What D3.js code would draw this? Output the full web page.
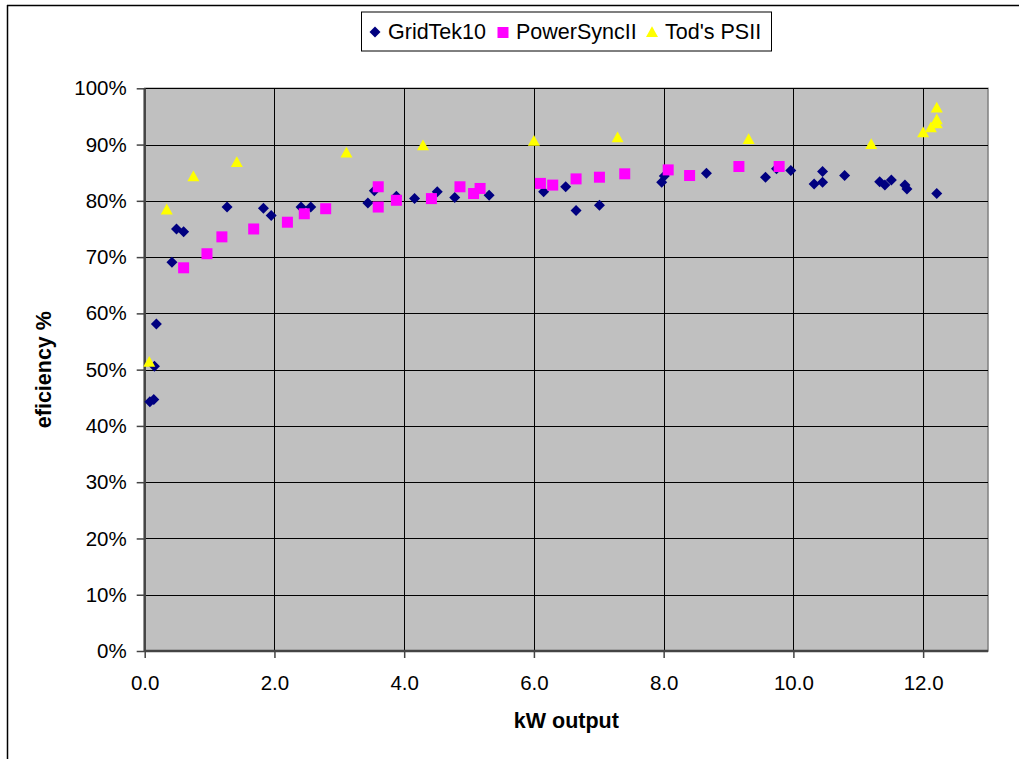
<!DOCTYPE html>
<html><head><meta charset="utf-8">
<script src="https://cdn.jsdelivr.net/npm/d3@7"></script>
<style>body{margin:0;background:#fff}svg{display:block;font-family:"Liberation Sans",Arial,sans-serif}</style>
</head><body>
<svg id="c" width="1019" height="759"></svg>
<script>
const seriesNames = ["GridTek10", "PowerSyncII", "Tod's PSII"];
const gridTek = [
 [0.08,44.3],[0.14,44.7],[0.15,50.6],[0.18,58.1],[0.42,69.1],[0.49,75.0],[0.60,74.5],
 [1.27,78.9],[1.83,78.7],[1.95,77.4],[2.41,78.9],[2.56,78.9],[3.44,79.6],[3.54,81.8],
 [3.88,80.8],[4.16,80.4],[4.51,81.6],[4.78,80.6],[5.31,81.0],[6.15,81.6],[6.49,82.5],
 [6.65,78.3],[7.01,79.2],[7.97,83.3],[8.01,84.4],[8.66,84.9],[9.57,84.2],[9.74,85.7],
 [9.96,85.4],[10.32,83.0],[10.45,85.2],[10.45,83.3],[10.79,84.5],[11.33,83.4],[11.41,82.8],
 [11.51,83.7],[11.72,82.8],[11.75,82.1],[12.21,81.3]
];
const powerSync = [
 [0.60,68.1],[0.96,70.6],[1.19,73.6],[1.68,75.0],[2.20,76.2],[2.46,77.7],[2.79,78.6],
 [3.60,78.9],[3.60,82.5],[3.88,80.1],[4.42,80.4],[4.86,82.5],[5.07,81.3],[5.17,82.2],
 [6.10,83.1],[6.29,82.8],[6.65,83.9],[7.01,84.2],[7.40,84.8],[8.07,85.5],[8.40,84.5],
 [9.16,86.1],[9.78,86.1]
];
const todsPSII = [
 [0.07,51.4],[0.34,78.5],[0.75,84.4],[1.42,86.9],[3.11,88.6],[4.29,89.9],[6.00,90.7],
 [7.29,91.3],[9.31,91.0],[11.20,90.1],[12.00,92.2],[12.12,93.1],[12.21,93.8],[12.21,94.5],[12.21,96.6]
];
const xTicks = [0,2,4,6,8,10,12];
const yTicks = [0,10,20,30,40,50,60,70,80,90,100];

const svg = d3.select("#c");
const L = 144.7, R = 988, T = 88.3, B = 651;
const x = d3.scaleLinear().domain([0,13]).range([L,R]);
const y = d3.scaleLinear().domain([0,100]).range([B,T]);

// outer chart border
svg.append("line").attr("x1",7).attr("x2",1019).attr("y1",5.5).attr("y2",5.5).attr("stroke","#000").attr("stroke-width",1.5);
svg.append("line").attr("x1",7.5).attr("x2",7.5).attr("y1",5).attr("y2",759).attr("stroke","#000").attr("stroke-width",1.5);

// plot area
svg.append("rect").attr("x",L).attr("y",T).attr("width",R-L).attr("height",B-T)
  .attr("fill","#c0c0c0").attr("stroke","#808080").attr("stroke-width",1.5);

// gridlines
svg.append("g").selectAll("line").data(yTicks.filter(d=>d>0)).join("line")
  .attr("x1",L).attr("x2",R).attr("y1",d=>Math.round(y(d))+0.5).attr("y2",d=>Math.round(y(d))+0.5)
  .attr("stroke","#000").attr("stroke-width",1);
svg.append("g").selectAll("line").data(xTicks.filter(d=>d>0)).join("line")
  .attr("y1",T).attr("y2",B).attr("x1",d=>Math.round(x(d))+0.5).attr("x2",d=>Math.round(x(d))+0.5)
  .attr("stroke","#000").attr("stroke-width",1);

// axes
const yAxis = d3.axisLeft(y).tickValues(yTicks).tickFormat(d=>d+"%").tickSize(8).tickPadding(10);
const gy = svg.append("g").attr("transform",`translate(${L},0)`).call(yAxis);
const xAxis = d3.axisBottom(x).tickValues(xTicks).tickFormat(d3.format(".1f")).tickSize(7).tickPadding(17);
const gx = svg.append("g").attr("transform",`translate(0,${B})`).call(xAxis);
[gx,gy].forEach(g=>{
  g.select(".domain").attr("stroke","#444").attr("stroke-width",2.5);
  g.selectAll(".tick line").attr("stroke","#444").attr("stroke-width",1.5);
  g.selectAll(".tick text").attr("fill","#000").style("font-size","20.5px").style("font-family",'"Liberation Sans",Arial,sans-serif');
});
gx.select(".domain").attr("d",`M${L},0H${R}`);
gy.select(".domain").attr("d",`M0,${B}V${T}`);

// axis titles
svg.append("text").attr("x",(L+R)/2).attr("y",728).attr("text-anchor","middle")
  .style("font-size","21.5px").style("font-weight","bold").text("kW output");
svg.append("text").attr("transform",`translate(51,${(T+B)/2}) rotate(-90)`).attr("text-anchor","middle")
  .style("font-size","21.5px").style("font-weight","bold").text("eficiency %");

// markers
const diamond = s => `M0,${-s}L${s},0L0,${s}L${-s},0Z`;
const tri = s => `M0,${-s*0.95}L${s},${s*0.85}L${-s},${s*0.85}Z`;
const pg = svg.append("g");
pg.selectAll(".gt").data(gridTek).join("path")
  .attr("transform",d=>`translate(${x(d[0])},${y(d[1])})`).attr("d",diamond(5.5)).attr("fill","#000080");
pg.selectAll(".ps").data(powerSync).join("rect")
  .attr("x",d=>x(d[0])-5.5).attr("y",d=>y(d[1])-5.5).attr("width",11).attr("height",11).attr("fill","#ff00ff");
pg.selectAll(".td").data(todsPSII).join("path")
  .attr("transform",d=>`translate(${x(d[0])},${y(d[1])})`).attr("d",tri(6)).attr("fill","#ffff00");

// legend
const lg = svg.append("g");
lg.append("rect").attr("x",361.5).attr("y",12).attr("width",410).attr("height",39).attr("fill","#fff").attr("stroke","#000").attr("stroke-width",1);
const items = [
  {name:seriesNames[0], mx:375, tx:388, type:"d"},
  {name:seriesNames[1], mx:503, tx:516, type:"s"},
  {name:seriesNames[2], mx:652, tx:665, type:"t"}
];
items.forEach(it=>{
  if(it.type==="d") lg.append("path").attr("transform",`translate(${it.mx},32)`).attr("d",diamond(5.5)).attr("fill","#000080");
  if(it.type==="s") lg.append("rect").attr("x",it.mx-5.5).attr("y",27).attr("width",11).attr("height",11).attr("fill","#ff00ff");
  if(it.type==="t") lg.append("path").attr("transform",`translate(${it.mx},32)`).attr("d",tri(6)).attr("fill","#ffff00");
  lg.append("text").attr("x",it.tx).attr("y",38.5).style("font-size","21.5px").text(it.name);
});
</script>
</body></html>
